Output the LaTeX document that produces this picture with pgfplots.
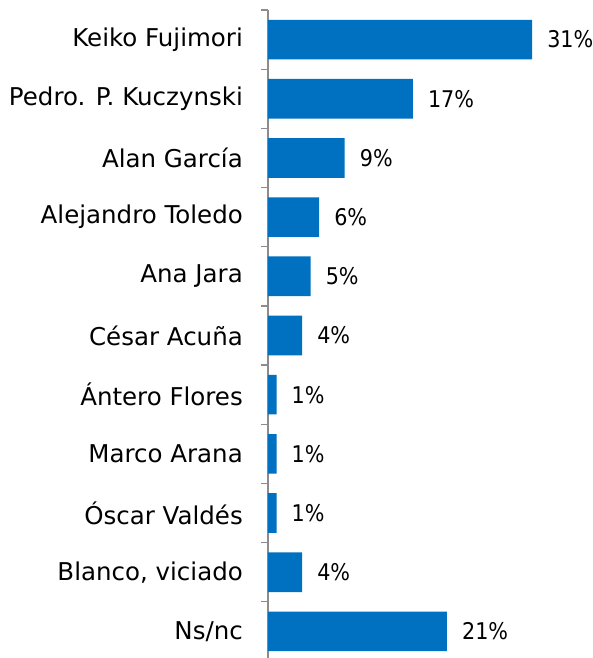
\documentclass[border=0pt]{standalone}
\usepackage{fontspec}
\setmainfont{DejaVu Sans}
\newfontfamily\valfont{DejaVu Sans Condensed}
\usepackage{pgfplots}
\pgfplotsset{compat=1.18}
\definecolor{barblue}{RGB}{0,112,192}
\definecolor{axisgray}{RGB}{140,140,140}

\begin{document}
\begin{tikzpicture}[x=1pt,y=1pt]
  \begin{axis}[
    name=ax,
    scale only axis,
    width=325pt, height=648pt,
    xbar, bar width=0.67,
    xmin=0, xmax=38.15,
    ymin=-0.5, ymax=10.45,
    y dir=reverse,
    axis x line=none,
    axis y line*=left,
    axis line style={draw=axisgray, line width=1.3pt},
    ytick={0,...,10},
    yticklabels={Keiko Fujimori,Pedro. P. Kuczynski,Alan García,Alejandro Toledo,Ana Jara,César Acuña,Ántero Flores,Marco Arana,Óscar Valdés,{Blanco, viciado},Ns/nc},
    major tick length=0pt,
    minor ytick={-0.5,0.5,...,10.5},
    minor tick length=7pt,
    tick align=outside,
    minor tick style={draw=axisgray, line width=1.3pt},
    yticklabel style={font=\fontsize{24.5}{28}\selectfont, anchor=east, inner sep=0pt, xshift=-25pt},
    /pgf/number format/assume math mode=true,
    nodes near coords={\pgfmathprintnumber{\pgfplotspointmeta}\%},
    nodes near coords style={font=\valfont\fontsize{23}{28}\selectfont, anchor=west, inner sep=0pt, xshift=15pt},
    point meta=x,
    clip=false,
  ]
    \addplot[fill=barblue, draw=none] coordinates {
      (31,0) (17,1) (9,2) (6,3) (5,4) (4,5) (1,6) (1,7) (1,8) (4,9) (21,10)};
    \coordinate (bl) at (rel axis cs:0,0);
    \coordinate (tr) at (rel axis cs:1,1);
  \end{axis}
  \pgfresetboundingbox
  \path ([xshift=-268pt]bl) rectangle ([yshift=10pt]tr);
\end{tikzpicture}
\end{document}
